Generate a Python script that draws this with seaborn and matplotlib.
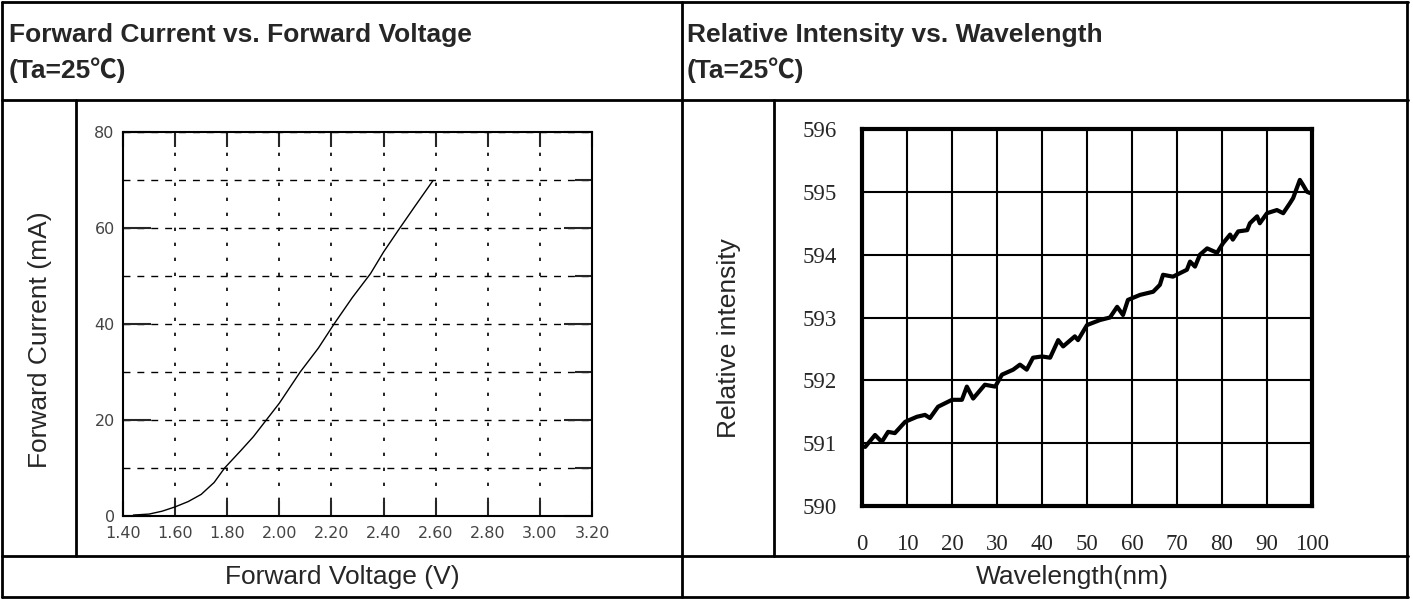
import matplotlib
matplotlib.use("Agg")
import matplotlib.pyplot as plt
from matplotlib.lines import Line2D
from matplotlib.ticker import MultipleLocator
import seaborn as sns
import pandas as pd

# Forward current vs forward voltage
voltage = [1.44, 1.50, 1.55, 1.60, 1.65, 1.70, 1.75, 1.79, 1.85, 1.90, 1.95,
           2.00, 2.08, 2.15, 2.21, 2.28, 2.35, 2.40, 2.46, 2.52, 2.59]
current = [0.2, 0.4, 1.0, 1.9, 3.0, 4.5, 7.0, 10.0, 13.5, 16.5, 20.0,
           23.5, 30.0, 35.0, 40.0, 45.5, 50.5, 55.0, 59.8, 64.5, 69.9]

# Relative intensity vs wavelength
wavelength = [0.7, 2.9, 4.4, 5.8, 7.3, 9.6, 12.2, 14.0, 15.1, 16.9, 20.0, 22.2,
              23.3, 24.7, 27.3, 29.6, 31.1, 33.6, 35.1, 36.6, 38.0, 40.0, 41.8,
              43.6, 44.7, 47.3, 48.0, 50.0, 52.9, 55.1, 56.7, 58.0, 59.1, 61.8,
              64.7, 66.2, 66.9, 69.1, 72.2, 72.9, 74.0, 75.1, 76.7, 78.9, 80.2,
              81.8, 82.4, 83.6, 85.6, 86.2, 87.8, 88.4, 90.0, 92.2, 93.6, 95.1,
              95.8, 97.3, 98.0, 98.9, 99.6]
intensity = [590.94, 591.13, 591.02, 591.18, 591.16, 591.34, 591.42, 591.45,
             591.40, 591.58, 591.69, 591.69, 591.90, 591.71, 591.93, 591.90,
             592.09, 592.17, 592.25, 592.17, 592.36, 592.38, 592.36, 592.64,
             592.54, 592.70, 592.64, 592.88, 592.96, 593.00, 593.17, 593.04,
             593.28, 593.36, 593.41, 593.52, 593.68, 593.65, 593.76, 593.89,
             593.81, 594.00, 594.10, 594.03, 594.18, 594.32, 594.24, 594.37,
             594.39, 594.50, 594.61, 594.50, 594.66, 594.71, 594.66, 594.82,
             594.90, 595.19, 595.11, 595.00, 594.98]

vf_ticks = [1.40, 1.60, 1.80, 2.00, 2.20, 2.40, 2.60, 2.80, 3.00, 3.20]
wl_ticks = [0, 10, 20, 30, 40, 50, 60, 70, 80, 90, 100]

sns.set_style("white")
plt.rcParams['font.family'] = ['Liberation Sans', 'DejaVu Sans']

W, H = 1413, 599
fig = plt.figure(figsize=(W / 100, H / 100), dpi=100)


def fx(px):
    return px / W


def fy(py):
    return 1 - py / H


def hline(y, x0, x1, lw=2):
    fig.add_artist(Line2D([fx(x0), fx(x1)], [fy(y), fy(y)], color='black', lw=lw))


def vline(x, y0, y1, lw=2):
    fig.add_artist(Line2D([fx(x), fx(x)], [fy(y0), fy(y1)], color='black', lw=lw))


# table frame
hline(2, 2, 1408)
hline(100, 2, 1408)
hline(556, 2, 1408)
hline(597, 2, 1408)
vline(2, 2, 597)
vline(682, 2, 597)
vline(1407, 2, 597)
vline(76, 100, 556)
vline(774, 100, 556)

# header texts
head = dict(fontsize=19, fontweight='bold', va='baseline', ha='left')
fig.text(fx(9), fy(42), "Forward Current vs. Forward Voltage", **head)
fig.text(fx(9), fy(78), "(Ta=25℃)", family=['Liberation Sans', 'Noto Sans CJK SC'], **head)
fig.text(fx(687), fy(42), "Relative Intensity vs. Wavelength", **head)
fig.text(fx(687), fy(78), "(Ta=25℃)", family=['Liberation Sans', 'Noto Sans CJK SC'], **head)

# bottom row labels
fig.text(fx(342), fy(577), "Forward Voltage (V)", fontsize=19, ha='center', va='center')
fig.text(fx(1072), fy(577), "Wavelength(nm)", fontsize=19, ha='center', va='center')

# y labels
fig.text(fx(40), fy(340), "Forward Current (mA)", fontsize=19, rotation=90,
         ha='center', va='center')
fig.text(fx(729), fy(338), "Relative intensity", fontsize=19, rotation=90,
         ha='center', va='center')

# ---- left chart ----
ax1 = fig.add_axes([fx(123), fy(516), (592 - 123) / W, (516 - 132) / H])
df1 = pd.DataFrame({'V': voltage, 'I': current})
sns.lineplot(data=df1, x='V', y='I', ax=ax1, color='black', lw=1)
ax1.set_xlim(1.40, 3.20)
ax1.set_ylim(0, 80)
ax1.set_xticks(vf_ticks)
ax1.set_xticklabels([f"{t:.2f}" for t in vf_ticks])
ax1.yaxis.set_major_locator(MultipleLocator(20))
ax1.yaxis.set_minor_locator(MultipleLocator(10))
ax1.set_xlabel('')
ax1.set_ylabel('')
ax1.grid(axis='x', which='major', color='black', lw=1.2, linestyle=(0, (2, 7)))
ax1.grid(axis='y', which='both', color='black', lw=1, linestyle=(0, (5, 5)))
ax1.tick_params(axis='x', which='major', direction='in', top=True, bottom=True,
                length=11, width=1.5, labelsize=11.5, labelcolor='#444444', pad=7)
ax1.tick_params(axis='y', which='major', direction='in', left=True, right=True,
                length=20, width=1.5, labelsize=11.5, labelcolor='#444444', pad=6)
ax1.tick_params(axis='y', which='minor', direction='in', left=False, right=True,
                length=12, width=1.5)
for lbl in ax1.get_xticklabels() + ax1.get_yticklabels():
    lbl.set_family('DejaVu Sans')
for s in ax1.spines.values():
    s.set_linewidth(1.5)
    s.set_color('black')

# ---- right chart ----
ax2 = fig.add_axes([fx(862), fy(506), (1312 - 862) / W, (506 - 129) / H])
df2 = pd.DataFrame({'wl': wavelength, 'ri': intensity})
sns.lineplot(data=df2, x='wl', y='ri', ax=ax2, color='black', lw=3)
ax2.set_xlim(0, 100)
ax2.set_ylim(590, 596)
ax2.set_xticks(wl_ticks)
ax2.set_yticks(range(590, 597))
ax2.set_xlabel('')
ax2.set_ylabel('')
ax2.grid(True, color='black', lw=1.5)
ax2.tick_params(axis='both', length=0, labelsize=16.5)
ax2.tick_params(axis='x', pad=20)
ax2.tick_params(axis='y', pad=18)
for lbl in ax2.get_xticklabels() + ax2.get_yticklabels():
    lbl.set_family('Liberation Serif')
for s in ax2.spines.values():
    s.set_linewidth(3)
    s.set_color('black')

fig.savefig('out.png', dpi=100)
